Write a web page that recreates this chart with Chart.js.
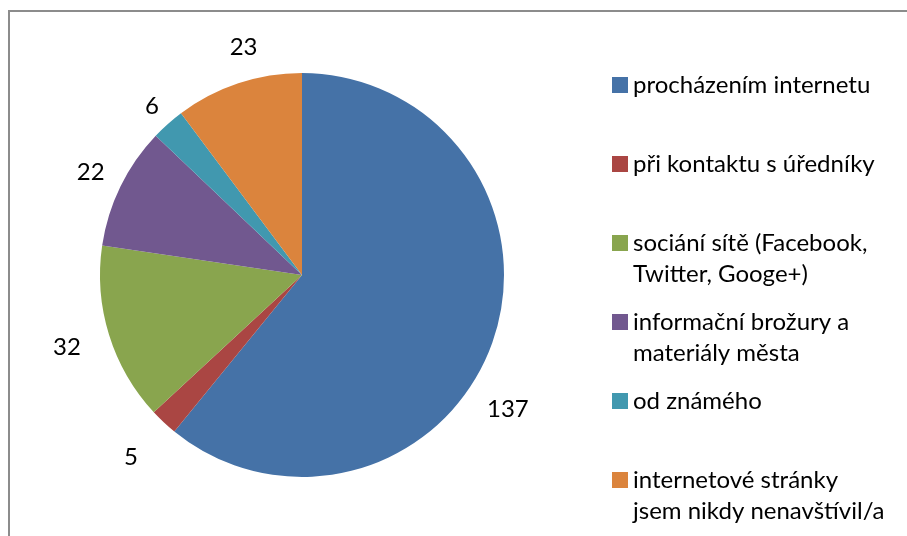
<!DOCTYPE html>
<html>
<head>
<meta charset="utf-8">
<script src="https://cdn.jsdelivr.net/npm/chart.js@4/dist/chart.umd.min.js"></script>
<style>
  html, body { margin: 0; padding: 0; background: #fff; }
  #wrap { width: 907px; height: 536px; position: relative; }
</style>
</head>
<body>
<div id="wrap"><canvas id="pie" width="907" height="536"></canvas></div>
<script>
// data
const categories = [
  ["procházením internetu"],
  ["při kontaktu s úředníky"],
  ["sociání sítě (Facebook,", "Twitter, Googe+)"],
  ["informační brožury a", "materiály města"],
  ["od známého"],
  ["internetové stránky", "jsem nikdy nenavštívil/a"]
];
const counts = [137, 5, 32, 22, 6, 23];
const colors = ["#4572A7", "#AA4643", "#89A54E", "#71588F", "#4198AF", "#DB843D"];

const FONT = "Lato, 'Open Sans', sans-serif";

// outer frame like the office chart area
const framePlugin = {
  id: "frame",
  beforeDraw(chart) {
    const ctx = chart.ctx;
    ctx.save();
    ctx.strokeStyle = "#8c8c8c";
    ctx.lineWidth = 2;
    ctx.strokeRect(9, 11, 1000, 1000);
    ctx.restore();
  }
};

// value labels outside the slices
const valueLabels = {
  id: "valueLabels",
  afterDatasetsDraw(chart, args, opts) {
    const ctx = chart.ctx;
    const meta = chart.getDatasetMeta(0);
    ctx.save();
    ctx.font = opts.font;
    ctx.fillStyle = "#000";
    ctx.textAlign = "center";
    ctx.textBaseline = "middle";
    meta.data.forEach((arc, i) => {
      const p = arc.getProps(["x", "y", "startAngle", "endAngle", "outerRadius"], true);
      const nudge = (opts.nudge[i] || 0) * Math.PI / 180;
      const a = (p.startAngle + p.endAngle) / 2 + nudge;
      const d = p.outerRadius + (opts.dist[i] || opts.offset);
      ctx.fillText(String(chart.data.datasets[0].data[i]), p.x + Math.cos(a) * d, p.y + Math.sin(a) * d);
    });
    ctx.restore();
  }
};

// legend drawn on the right side
const sideLegend = {
  id: "sideLegend",
  afterDraw(chart, args, opts) {
    const ctx = chart.ctx;
    const ds = chart.data.datasets[0];
    ctx.save();
    ctx.font = opts.font;
    ctx.textBaseline = "middle";
    chart.data.labels.forEach((lines, i) => {
      const y = opts.top + i * opts.step;
      ctx.fillStyle = ds.backgroundColor[i];
      ctx.fillRect(opts.x, y - 8, 16, 16);
      ctx.fillStyle = "#000";
      lines.forEach((ln, j) => ctx.fillText(ln, opts.x + 21, y + j * opts.lineHeight));
    });
    ctx.restore();
  }
};

new Chart(document.getElementById("pie"), {
  type: "pie",
  data: {
    labels: categories,
    datasets: [{
      data: counts,
      backgroundColor: colors,
      borderWidth: 0
    }]
  },
  options: {
    responsive: false,
    animation: false,
    layout: { padding: { left: 100, right: 403, top: 73, bottom: 59 } },
    plugins: {
      legend: { display: false },
      tooltip: { enabled: false },
      valueLabels: {
        font: "24px " + FONT, offset: 33,
        dist: { 0: 44, 1: 48, 2: 44, 4: 24 },
        nudge: { 0: 13.6, 5: 4 }
      },
      sideLegend: { font: "24px " + FONT, x: 612, top: 85, step: 79, lineHeight: 31 }
    }
  },
  plugins: [framePlugin, valueLabels, sideLegend]
});
</script>
</body>
</html>
